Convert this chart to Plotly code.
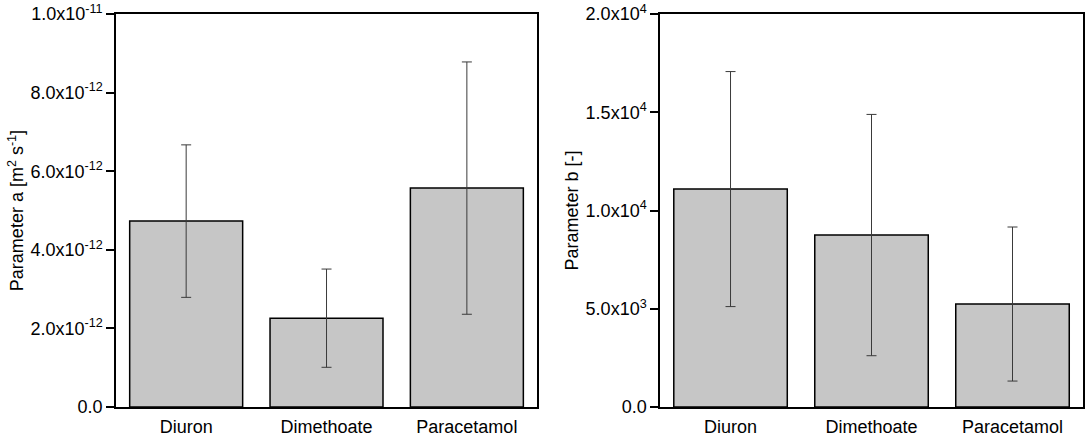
import plotly.graph_objects as go
from plotly.subplots import make_subplots

compounds = ["Diuron", "Dimethoate", "Paracetamol"]

param_a = [4.73e-12, 2.26e-12, 5.57e-12]
param_a_err = [1.94e-12, 1.25e-12, 3.21e-12]

param_b = [11090, 8750, 5240]
param_b_err = [5980, 6140, 3920]

a_tickvals = [0, 2e-12, 4e-12, 6e-12, 8e-12, 1e-11]
a_ticktext = ["0.0", "2.0x10<sup>-12</sup>", "4.0x10<sup>-12</sup>", "6.0x10<sup>-12</sup>",
              "8.0x10<sup>-12</sup>", "1.0x10<sup>-11</sup>"]
b_tickvals = [0, 5000, 10000, 15000, 20000]
b_ticktext = ["0.0", "5.0x10<sup>3</sup>", "1.0x10<sup>4</sup>", "1.5x10<sup>4</sup>", "2.0x10<sup>4</sup>"]

fig = make_subplots(rows=1, cols=2, horizontal_spacing=0.127)

err_style = dict(type="data", color="#3a3a3a", thickness=1, width=5)
bar_style = dict(color="#c6c6c6", line=dict(color="black", width=1.5))

fig.add_trace(go.Bar(x=compounds, y=param_a, marker=bar_style,
                     error_y=dict(array=param_a_err, **err_style)), row=1, col=1)
fig.add_trace(go.Bar(x=compounds, y=param_b, marker=bar_style,
                     error_y=dict(array=param_b_err, **err_style)), row=1, col=2)

axis_common = dict(showline=True, linecolor="black", linewidth=1.5, mirror=True,
                   showgrid=False, zeroline=False, automargin=False)

fig.update_xaxes(**axis_common, ticks="", tickfont=dict(size=18), ticklabelstandoff=3)
fig.update_yaxes(**axis_common, ticks="outside", ticklen=8, tickwidth=1.5,
                 tickcolor="black", tickfont=dict(size=18), ticklabeloverflow="allow")

fig.update_xaxes(domain=[0, 0.4354], row=1, col=1)
fig.update_xaxes(domain=[0.5626, 1.0], row=1, col=2)

fig.update_yaxes(range=[0, 1e-11], tickvals=a_tickvals, ticktext=a_ticktext,
                 title=dict(text="Parameter a [m<sup>2</sup> s<sup>-1</sup>]", font=dict(size=18), standoff=2),
                 row=1, col=1)
fig.update_yaxes(range=[0, 20000], tickvals=b_tickvals, ticktext=b_ticktext,
                 title=dict(text="Parameter b [-]", font=dict(size=18), standoff=2),
                 row=1, col=2)

fig.update_layout(
    width=1087, height=437,
    margin=dict(l=116, r=4, t=14, b=30),
    paper_bgcolor="white", plot_bgcolor="white",
    font=dict(family="Liberation Sans, Arial, sans-serif", color="black"),
    showlegend=False,
    bargap=0.195,
)

# drop the page's default body margin so the figure fills the window
fig.write_html("out.html", config={"displayModeBar": False},
               post_script="document.body.style.margin='0';")
